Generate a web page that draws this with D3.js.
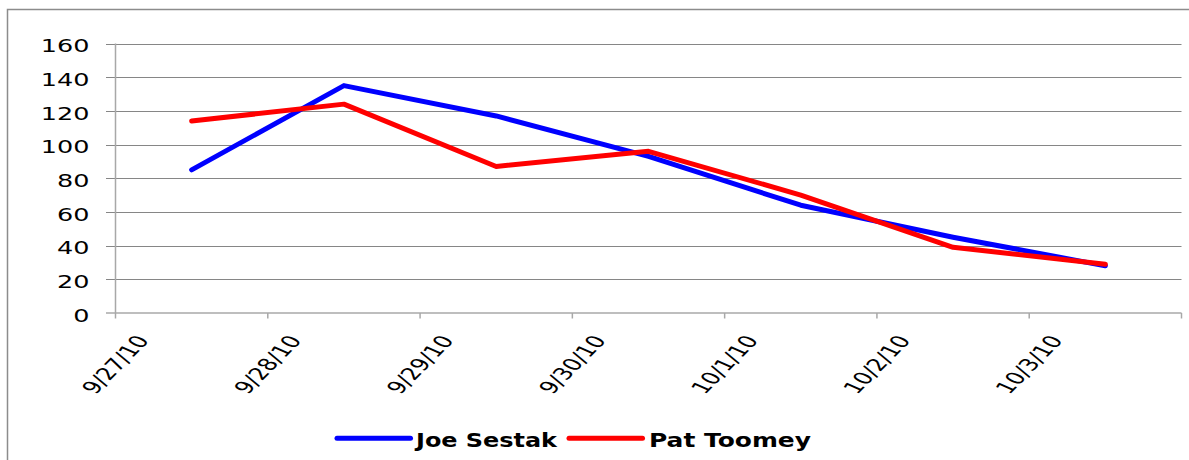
<!DOCTYPE html>
<html>
<head>
<meta charset="utf-8">
<script src="https://cdn.jsdelivr.net/npm/d3@7"></script>
<style>
  body { margin: 0; background: #ffffff; }
  svg { display: block; }
</style>
</head>
<body>
<svg id="chart" width="1189" height="460"></svg>
<script>
// Daily poll counts, 27 Sep – 3 Oct 2010
const categories = ["9/27/10", "9/28/10", "9/29/10", "9/30/10", "10/1/10", "10/2/10", "10/3/10"];
const sestak = [85, 135, 117, 93, 64, 45, 28];
const toomey = [114, 124, 87, 96, 70, 39, 29];
const yTicks = [0, 20, 40, 60, 80, 100, 120, 140, 160];
const seriesNames = ["Joe Sestak", "Pat Toomey"];
const seriesColors = ["#0000ff", "#ff0000"];

const svg = d3.select("#chart");
const W = 1189, H = 460;
const plot = { left: 115.5, right: 1181.5, top: 43.5, bottom: 313 };
const stretch = 1.5;            // wide, horizontally stretched lettering
const font = "Verdana, 'DejaVu Sans', sans-serif";

svg.append("rect").attr("width", W).attr("height", H).attr("fill", "#fff");

// outer chart frame
svg.append("rect")
  .attr("x", 7.5).attr("y", 9.5)
  .attr("width", 1240).attr("height", 520)
  .attr("fill", "none").attr("stroke", "#8c8c8c").attr("stroke-width", 1.5);

const x = d3.scaleBand().domain(categories).range([plot.left, plot.right]).paddingInner(0).paddingOuter(0);
const y = d3.scaleLinear().domain([0, 160]).range([plot.bottom, plot.top]);

// horizontal gridlines with tick stubs
const grid = svg.append("g");
grid.selectAll("line").data(yTicks.filter(d => d > 0)).join("line")
  .attr("x1", 106).attr("x2", plot.right)
  .attr("y1", d => Math.round(y(d)) + 0.5).attr("y2", d => Math.round(y(d)) + 0.5)
  .attr("stroke", "#868686").attr("stroke-width", 1);

// y axis
svg.append("line")
  .attr("x1", plot.left).attr("x2", plot.left)
  .attr("y1", plot.top).attr("y2", plot.bottom)
  .attr("stroke", "#a8a8a8").attr("stroke-width", 1.5);
svg.append("line")
  .attr("x1", 106).attr("x2", plot.left)
  .attr("y1", plot.bottom).attr("y2", plot.bottom)
  .attr("stroke", "#a8a8a8").attr("stroke-width", 1.5);

// y tick labels
svg.append("g").selectAll("text").data(yTicks).join("text")
  .attr("transform", d => `translate(89.5,${y(d) + 8.7}) scale(${stretch},1)`)
  .attr("text-anchor", "end")
  .attr("font-family", font).attr("font-size", 17).attr("fill", "#000")
  .text(d => d);

// x axis with tick marks at day boundaries
const xTickPos = categories.map(c => x(c)).concat([plot.right]);
svg.append("line")
  .attr("x1", plot.left).attr("x2", plot.right)
  .attr("y1", plot.bottom).attr("y2", plot.bottom)
  .attr("stroke", "#a8a8a8").attr("stroke-width", 1.5);
svg.append("g").selectAll("line").data(xTickPos).join("line")
  .attr("x1", d => d).attr("x2", d => d)
  .attr("y1", plot.bottom).attr("y2", plot.bottom + 5.5)
  .attr("stroke", "#a8a8a8").attr("stroke-width", 1.5);

// rotated date labels
svg.append("g").selectAll("text").data(categories).join("text")
  .attr("transform", d => `translate(${x(d)},364.5) scale(${stretch},1) rotate(-56.3)`)
  .attr("text-anchor", "middle")
  .attr("dominant-baseline", "central")
  .attr("font-family", font).attr("font-size", 17).attr("fill", "#000")
  .text(d => d);

// series lines
const line = d3.line()
  .x((d, i) => x(categories[i]) + x.bandwidth() / 2)
  .y(d => y(d));

[sestak, toomey].forEach((vals, k) => {
  svg.append("path")
    .datum(vals)
    .attr("d", line)
    .attr("fill", "none")
    .attr("stroke", seriesColors[k])
    .attr("stroke-width", 5)
    .attr("stroke-linejoin", "round")
    .attr("stroke-linecap", "round");
});

// legend
const legendItems = [
  { name: seriesNames[0], color: seriesColors[0], x0: 337, x1: 410.5, tx: 416, tw: 141 },
  { name: seriesNames[1], color: seriesColors[1], x0: 569, x1: 642.5, tx: 649, tw: 162 }
];
const lg = svg.append("g");
legendItems.forEach(it => {
  lg.append("line")
    .attr("x1", it.x0).attr("x2", it.x1)
    .attr("y1", 438.3).attr("y2", 438.3)
    .attr("stroke", it.color).attr("stroke-width", 5)
    .attr("stroke-linecap", "round");
  lg.append("text")
    .attr("x", it.tx).attr("y", 446.7)
    .attr("textLength", it.tw).attr("lengthAdjust", "spacingAndGlyphs")
    .attr("font-family", font).attr("font-size", 19.5).attr("font-weight", "bold")
    .attr("fill", "#000")
    .text(it.name);
});
</script>
</body>
</html>
